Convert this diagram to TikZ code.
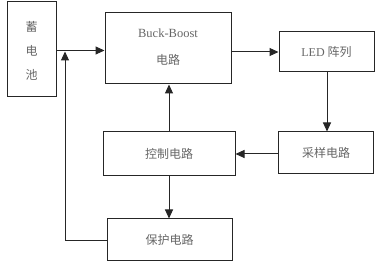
\documentclass[tikz,border=0pt]{standalone}
\usepackage{fontspec}
\setmainfont{Liberation Serif}
\newfontfamily\cjk{Noto Sans CJK SC}
\usetikzlibrary{arrows.meta}
\begin{document}
\begin{tikzpicture}[x=1pt,y=-1pt,
  blk/.style={draw=black!85,line width=1pt,inner sep=0pt,text=black!60,font=\fontsize{12}{14}\selectfont},
  conn/.style={draw=black!85,line width=1pt,-{Triangle[length=9pt,width=8pt]}},
  plain/.style={draw=black!85,line width=1pt}]
\useasboundingbox (0,0) rectangle (377,264);
\node[blk,minimum width=49pt,minimum height=95pt] (bat) at (31.5,49.5) {};
\node[text=black!60,font=\cjk\fontsize{12}{14}\selectfont,align=center] (battxt) at (31.5,51) {蓄\\[10pt]电\\[10pt]池};
\node[blk,minimum width=126pt,minimum height=71pt] (bb) at (168,48.5) {};
\node[text=black!60,font=\fontsize{12.5}{14}\selectfont] (bbt1) at (168,33) {Buck-Boost};
\node[text=black!60,font=\cjk\fontsize{12}{14}\selectfont] (bbt2) at (168,60) {电路};
\node[blk,minimum width=95pt,minimum height=40pt] (led) at (326.5,52) {LED {\cjk 阵列}};
\node[blk,minimum width=95pt,minimum height=42pt] (smp) at (326,153) {\cjk 采样电路};
\node[blk,minimum width=132pt,minimum height=44pt] (ctl) at (169,154) {\cjk 控制电路};
\node[blk,minimum width=125pt,minimum height=41pt] (prt) at (169.5,239.5) {\cjk 保护电路};
\coordinate (j) at (65,50.5);
\coordinate (c) at (65,240);
\draw[conn] (bat.east |- j) -- (bb.west |- j);
\draw[conn] (bb.east |- led) -- (led.west);
\draw[conn] (led.south -| 327,0) -- (smp.north -| 327,0);
\draw[conn] (smp.west |- 0,154) -- (ctl.east |- 0,154);
\draw[conn] (ctl.north) -- (bb.south -| ctl.north);
\draw[conn] (ctl.south) -- (prt.north -| ctl.south);
\draw[plain] (prt.west |- c) -- (c);
\draw[conn] (c) -- (65,51.5);
\end{tikzpicture}
\end{document}
